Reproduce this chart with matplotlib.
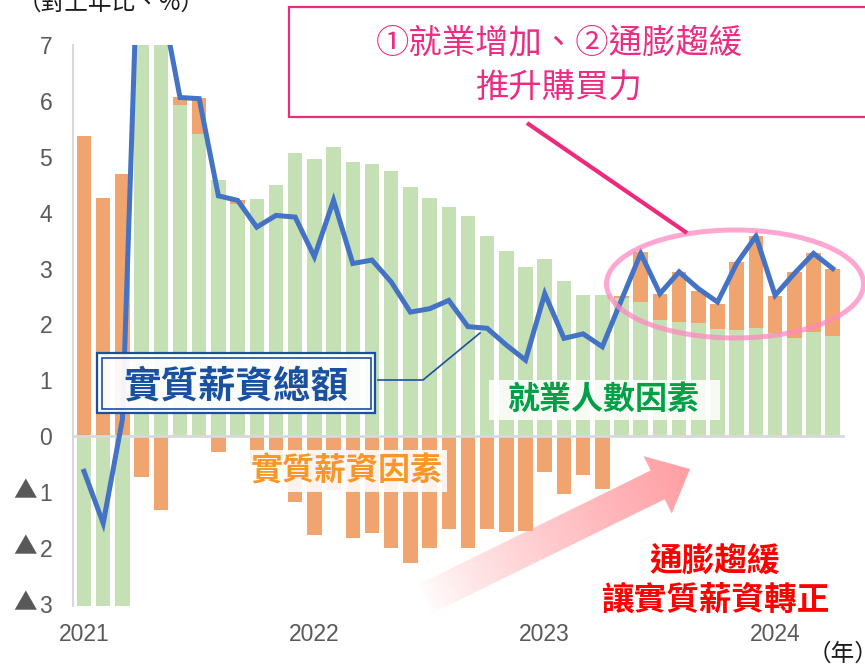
import numpy as np
import matplotlib
matplotlib.use("Agg")
import matplotlib.pyplot as plt
from matplotlib.patches import Rectangle, Ellipse, Polygon

# ---- data (monthly, Jan 2021 - Apr 2024, y/y %) ----
employment_factor = [-6.00, -5.83, -4.40, 11.40, 9.20, 5.92, 5.40, 4.58, 4.15, 4.25,
                     4.50, 5.07, 4.96, 5.18, 4.91, 4.87, 4.74, 4.46, 4.27, 4.10,
                     3.94, 3.58, 3.31, 3.02, 3.17, 2.77, 2.52, 2.52, 2.47, 2.40,
                     2.08, 2.05, 2.03, 1.91, 1.90, 1.94, 1.85, 1.76, 1.86, 1.79]
real_wage_factor = [5.37, 4.27, 4.70, -0.73, -1.33, 0.15, 0.65, -0.28, 0.07, -0.51,
                    -0.55, -1.17, -1.77, -0.96, -1.83, -1.73, -2.00, -2.27, -2.00, -1.67,
                    -2.00, -1.67, -1.71, -1.69, -0.64, -1.04, -0.70, -0.94, 0.04, 0.89,
                    0.47, 0.89, 0.57, 0.45, 1.22, 1.64, 0.65, 1.17, 1.41, 1.21]
real_total = [-0.63, -1.56, 0.30, 10.70, 7.87, 6.06, 6.04, 4.30, 4.22, 3.74,
              3.95, 3.92, 3.21, 4.22, 3.09, 3.15, 2.76, 2.22, 2.28, 2.43,
              1.96, 1.93, 1.63, 1.36, 2.55, 1.75, 1.83, 1.60, 2.44, 3.27,
              2.55, 2.94, 2.64, 2.40, 3.09, 3.58, 2.52, 2.91, 3.27, 3.00]
year_labels = ["2021", "2022", "2023", "2024"]
year_tick_idx = [0, 12, 24, 36]
ytick_vals = [-3, -2, -1, 0, 1, 2, 3, 4, 5, 6, 7]
ytick_digits = ["3", "2", "1", "0", "1", "2", "3", "4", "5", "6", "7"]
neg_mark = "▲"

CJK = ["Noto Sans CJK TC", "DejaVu Sans"]
NUM = ["Liberation Sans", "DejaVu Sans"]

W, H = 865, 667
fig = plt.figure(figsize=(W / 100, H / 100), dpi=100)

ax = fig.add_axes([73 / W, 1 - 606 / H, 772 / W, (606 - 45) / H])
x = np.arange(len(employment_factor))
g = np.array(employment_factor)
o = np.array(real_wage_factor)
obottom = np.where(np.sign(o) == np.sign(g), g, 0.0)

ax.bar(x, g, width=0.755, color="#C5E0B4", zorder=2)
ax.bar(x, o, bottom=obottom, width=0.755, color="#F1A56E", zorder=2)
ax.axhline(0, color="#D9D9D9", lw=2, zorder=3)
ax.plot(x, real_total, color="#4472C4", lw=3.6, zorder=4, solid_joinstyle="miter")

ax.set_xlim(-0.573, 39.64)
ax.set_ylim(-3.04, 7)
for s in ["top", "right", "bottom"]:
    ax.spines[s].set_visible(False)
ax.spines["left"].set_color("#D9D9D9")
ax.spines["left"].set_linewidth(1.5)
ax.set_yticks(ytick_vals)
ax.set_yticklabels(ytick_digits, family=NUM, fontsize=16.5, color="#595959")
ax.set_xticks(year_tick_idx)
ax.set_xticklabels(year_labels, family=NUM, fontsize=16.5, color="#595959")
ax.tick_params(axis="y", length=0, pad=15)
ax.tick_params(axis="x", length=0, pad=12)

# negative markers (▲) left of the digit labels
for v in ytick_vals:
    if v < 0:
        ax.annotate(neg_mark, xy=(0, v), xycoords=("axes fraction", "data"),
                    xytext=(-26.0, 0), textcoords="offset points",
                    family=["Noto Sans CJK TC", "DejaVu Sans"], fontsize=17,
                    color="#595959", ha="right", va="center", annotation_clip=False)

# ---- overlay in pixel coordinates for annotations ----
ov = fig.add_axes([0, 0, 1, 1], zorder=10)
ov.set_xlim(0, W)
ov.set_ylim(H, 0)
ov.axis("off")
ov.patch.set_alpha(0)

# gradient arrow
T = np.array([423.0, 600.0])
P = np.array([690.0, 469.0])
L = np.linalg.norm(P - T)
u = (P - T) / L
n = np.array([-u[1], u[0]])
hw_s, hw_h, hl = 16, 32, 36
B = P - u * hl
poly = [T + n * hw_s, B + n * hw_s, B + n * hw_h, P, B - n * hw_h, B - n * hw_s, T - n * hw_s]
clip = Polygon(poly, closed=True, transform=ov.transData, facecolor="none", edgecolor="none")
ov.add_patch(clip)
x0, x1, y0, y1 = 395, 700, 440, 625
xx, yy = np.meshgrid(np.linspace(x0, x1, 320), np.linspace(y0, y1, 200))
t = ((xx - T[0]) * u[0] + (yy - T[1]) * u[1]) / L
a = np.clip(t, 0, 1) ** 0.8 * 0.95
img = np.zeros(xx.shape + (4,))
img[..., 0] = 1.0
img[..., 1] = 0.60
img[..., 2] = 0.62
img[..., 3] = a
im = ov.imshow(img, extent=(x0, x1, y1, y0), origin="upper", interpolation="bilinear", zorder=1)
im.set_clip_path(clip)
ov.set_xlim(0, W)
ov.set_ylim(H, 0)

# ellipse highlight
ov.add_patch(Ellipse((735, 284), 257, 108, facecolor="none", edgecolor="#FF88C2", lw=3.6, alpha=0.75, zorder=3))

# top callout box
ov.add_patch(Rectangle((289, 7), 600, 110, facecolor="white", edgecolor="#EE2A7B", lw=1.6, zorder=3))
ov.text(559, 43, "①就業增加、②通膨趨緩", family=CJK, fontsize=24, color="#EC2C82",
        ha="center", va="center", zorder=4)
ov.text(559, 88, "推升購買力", family=CJK, fontsize=24, color="#EC2C82",
        ha="center", va="center", zorder=4)
ov.plot([527, 687], [123, 233], color="#EE2A7B", lw=3, solid_capstyle="butt", zorder=4)

# total label box with double border
ov.add_patch(Rectangle((97, 353), 278, 60, facecolor="white", alpha=0.93, edgecolor="none", zorder=5))
ov.add_patch(Rectangle((97, 353), 278, 60, facecolor="none", edgecolor="#1A50A0", lw=1.6, zorder=6))
ov.add_patch(Rectangle((101.5, 357.5), 269, 51, facecolor="none", edgecolor="#1A50A0", lw=1.2, zorder=6))
ov.text(236, 386, "實質薪資總額", family=CJK, fontsize=27, weight="bold", color="#1A50A0",
        ha="center", va="center", zorder=7)
ov.plot([378, 423, 480], [380, 380, 333], color="#1A50A0", lw=1.2, zorder=6)

# employment factor label
ov.add_patch(Rectangle((489, 380), 231, 40, facecolor="white", alpha=0.85, edgecolor="none", zorder=5))
ov.text(603, 400, "就業人數因素", family=CJK, fontsize=23, weight="bold", color="#00A046",
        ha="center", va="center", zorder=7)

# real wage factor label
ov.add_patch(Rectangle((245, 450), 202, 42, facecolor="white", alpha=0.88, edgecolor="none", zorder=5))
ov.text(347, 472, "實質薪資因素", family=CJK, fontsize=23, weight="bold", color="#F7962A",
        ha="center", va="center", zorder=7)

# red conclusion text
ov.text(715, 562, "通膨趨緩", family=CJK, fontsize=23.5, weight="bold", color="#FF0000",
        ha="center", va="center", zorder=7)
ov.text(715, 600, "讓實質薪資轉正", family=CJK, fontsize=23.5, weight="bold", color="#FF0000",
        ha="center", va="center", zorder=7)

# axis unit labels
ov.text(18, 3, "（對上年比、%）", family=CJK, fontsize=17, color="#1a1a1a", ha="left", va="center", zorder=7)
ov.text(808, 654, "（年）", family=CJK, fontsize=17, color="#1a1a1a", ha="left", va="center", zorder=7)

fig.savefig("out.png", dpi=100)
